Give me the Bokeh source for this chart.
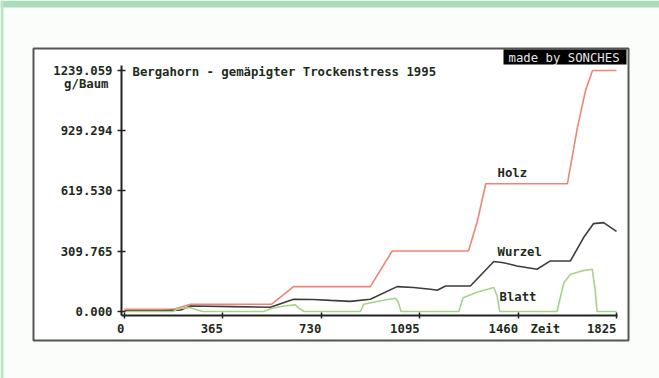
from bokeh.plotting import figure
from bokeh.models import Range1d, FixedTicker, Label, BoxAnnotation
from bokeh.embed import file_html
from bokeh.resources import INLINE

# --- simulated biomass (g/Baum) over five years, breakpoints of each curve ---
holz_days = [0, 182, 245, 545, 627, 912, 993, 1276, 1310, 1340, 1643, 1680, 1710, 1736, 1825]
holz_vals = [11, 11, 37, 37, 128, 128, 311, 311, 470, 657, 657, 945, 1136, 1239, 1239]

wurzel_days = [0, 140, 208, 245, 400, 541, 627, 701, 764, 838, 912, 1011, 1072, 1135, 1160,
               1191, 1283, 1370, 1406, 1456, 1530, 1580, 1654, 1703, 1740, 1777, 1825]
wurzel_vals = [3, 3, 8, 28, 25, 22, 63, 62, 57, 52, 63, 128, 123, 114, 109,
               131, 131, 257, 251, 234, 217, 260, 260, 380, 452, 457, 412]

blatt_days = [0, 180, 200, 240, 290, 516, 545, 590, 634, 645, 665, 875, 887, 950, 1005, 1015,
              1026, 1240, 1256, 1310, 1370, 1382, 1392, 1604, 1630, 1654, 1700, 1735, 1745,
              1753, 1825]
blatt_vals = [0, 0, 15, 20, 0, 0, 15, 28, 34, 20, 0, 0, 37, 55, 68, 50,
              0, 0, 71, 100, 123, 80, 0, 0, 148, 192, 210, 217, 120,
              0, 0]

x_ticks = [0, 365, 730, 1095, 1460, 1825]
x_tick_labels = ["0", "365", "730", "1095", "1460", "1825"]
y_ticks = [0.0, 309.765, 619.530, 929.294, 1239.059]
y_tick_labels = ["0.000", "309.765", "619.530", "929.294", "1239.059"]

W, H = 659, 378
# plotting area in canvas pixels and the data values at its edges
AL, AR, AT, AB = 121, 617, 65, 315
DX0, DX1 = -11.1, 1828.7
DY0, DY1 = -20.6, 1264.8
KX = (AR - AL) / (DX1 - DX0)
KY = (AB - AT) / (DY1 - DY0)


def cx(px):
    return DX0 + (px - AL) / KX


def cy(py):
    return DY0 + (AB - py) / KY


MONO = "DejaVu Sans Mono"
FS = "12.3px"
INK = "#1d2a20"
NBSP = "\u00a0"

# the frame spans the whole canvas; axes are pinned at the plotting-area edges
p = figure(width=W, height=H, output_backend="svg", toolbar_location=None,
           x_range=Range1d(cx(0), cx(W)), y_range=Range1d(cy(H), cy(0)),
           min_border=0)
p.outline_line_color = None
p.background_fill_color = "#fbfdfb"
p.border_fill_color = "#fbfdfb"
p.grid.visible = False


def deco(left, right, top, bottom, fill, line=None, lw=0):
    p.add_layout(BoxAnnotation(left=cx(left), right=cx(right), top=cy(top), bottom=cy(bottom),
                               fill_color=fill, fill_alpha=1 if fill else 0,
                               line_color=line, line_alpha=1, line_width=lw,
                               level="underlay"))


# page decoration: green bands, white panel with frame, badge
deco(0, W, 0, 7, "#aadcba")
deco(0, 3, 0, H, "#b8e4c4")
deco(33, 628, 48, 340, "#ffffff", "#555555", 2)
deco(503, 626, 49, 64, "#000000")

for ax in (p.xaxis[0], p.yaxis[0]):
    ax.axis_line_width = 2
    ax.axis_line_color = "#222222"
    ax.major_tick_line_color = "#222222"
    ax.major_tick_line_width = 1.5
    ax.minor_tick_line_color = None
    ax.major_label_text_font = MONO
    ax.major_label_text_font_size = FS
    ax.major_label_text_font_style = "bold"
    ax.major_label_text_color = INK

# day labels sit to the left of their tick: pad each with blanks of equal length
p.xaxis.fixed_location = cy(AB)
p.xaxis.bounds = (cx(AL), cx(AR))
p.xaxis.ticker = FixedTicker(ticks=x_ticks)
p.xaxis.major_label_overrides = {t: s + NBSP * len(s) for t, s in zip(x_ticks, x_tick_labels)}
p.xaxis.major_tick_in = 3
p.xaxis.major_tick_out = 3
p.xaxis.major_label_standoff = 3

p.yaxis.fixed_location = cx(AL)
p.yaxis.bounds = (cy(AB), cy(AT))
p.yaxis.ticker = FixedTicker(ticks=y_ticks)
p.yaxis.major_label_overrides = {t: s for t, s in zip(y_ticks, y_tick_labels)}
p.yaxis.major_tick_in = 4
p.yaxis.major_tick_out = 4
p.yaxis.major_label_standoff = 5

# curves
p.line(holz_days, holz_vals, line_color="#f08474", line_width=1.6)
p.line(wurzel_days, wurzel_vals, line_color="#3c3c3c", line_width=1.6)
p.line(blatt_days, blatt_vals, line_color="#a6d28a", line_width=1.6)


def label(px, py, txt, color=INK, style="bold", align="left"):
    p.add_layout(Label(x=cx(px), y=cy(py), text=txt, text_font=MONO,
                       text_font_size=FS, text_font_style=style,
                       text_color=color, text_baseline="middle", text_align=align))


label(132, 71, "Bergahorn - gemäpigter Trockenstress 1995")
label(108, 83, "g/Baum", align="right")
label(497, 172, "Holz")
label(497, 251, "Wurzel")
label(499, 296, "Blatt")
label(530, 328, "Zeit")
label(508, 57, "made by SONCHES", color="#e4e4e4", style="normal")

open("out.html", "w").write(file_html(p, INLINE))
